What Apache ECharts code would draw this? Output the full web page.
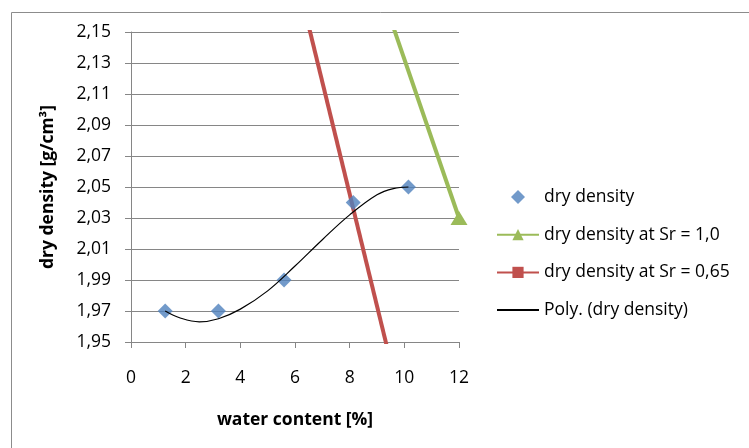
<!DOCTYPE html>
<html>
<head>
<meta charset="utf-8">
<script src="https://cdn.jsdelivr.net/npm/echarts@6/dist/echarts.min.js"></script>
<style>html,body{margin:0;padding:0;background:#fff}#c{width:749px;height:448px}</style>
</head>
<body>
<div id="c"></div>
<script>
// measured points: water content [%], dry density [g/cm3]
const dryDensity = [[1.25, 1.970], [3.2, 1.970], [5.6, 1.990], [8.13, 2.040], [10.15, 2.050]];
// saturation lines (only visible parts inside the plot range)
const srOne = [[8.0, 2.235], [12.0, 2.030]];
const srSixtyFive = [[6.0, 2.190], [10.0, 1.901]];
// trendline
const polyTrend = [[1.25, 1.970], [1.8, 1.9655], [2.5, 1.9630], [3.2, 1.9650], [4.0, 1.9712], [5.0, 1.9830],
  [6.0, 1.9990], [7.0, 2.0160], [8.0, 2.0320], [9.0, 2.0450], [9.6, 2.0490], [10.15, 2.0500]];
const xTicks = {min: 0, max: 12, step: 2};
const yTicks = {min: 1.95, max: 2.15, step: 0.02};
const names = ['dry density', 'dry density at Sr = 1,0', 'dry density at Sr = 0,65', 'Poly. (dry density)'];

const font = '"Open Sans", sans-serif';
const fs = 17.5;
const chart = echarts.init(document.getElementById('c'), null, {renderer: 'canvas'});
chart.setOption({
  backgroundColor: '#fff',
  animation: false,
  textStyle: {fontFamily: font},
  graphic: [{type: 'rect', left: 9, top: 10, shape: {width: 800, height: 500},
    style: {fill: 'none', stroke: '#8c8c8c', lineWidth: 1}, silent: true}],
  grid: {left: 131, top: 32, width: 328, height: 310},
  legend: {
    orient: 'vertical', left: 496, top: 188, padding: 0, itemWidth: 42, itemHeight: 14, itemGap: 19.7,
    symbolKeepAspect: true,
    textStyle: {fontSize: fs, lineHeight: 18, color: '#000', fontFamily: font},
    data: [
      {name: names[0], icon: 'path://M0,-1L1,0L0,1L-1,0Z'},
      {name: names[1]},
      {name: names[2]},
      {name: names[3], itemStyle: {color: 'rgba(0,0,0,0)', borderWidth: 0}}
    ]
  },
  xAxis: {
    type: 'value', min: xTicks.min, max: xTicks.max, interval: xTicks.step,
    name: 'water content [%]', nameLocation: 'middle', nameGap: 69,
    nameTextStyle: {fontSize: fs, fontWeight: 'bold', color: '#000', fontFamily: font},
    axisLine: {show: true, onZero: false, lineStyle: {color: '#868686', width: 1}},
    axisTick: {show: true, length: 6, lineStyle: {color: '#868686'}},
    axisLabel: {fontSize: fs, color: '#000', margin: 27},
    splitLine: {show: false}
  },
  yAxis: {
    type: 'value', min: yTicks.min, max: yTicks.max, interval: yTicks.step,
    name: 'dry density [g/cm³]', nameLocation: 'middle', nameGap: 74, nameRotate: 90,
    nameTextStyle: {fontSize: fs, fontWeight: 'bold', color: '#000', fontFamily: font},
    axisLine: {show: true, onZero: false, lineStyle: {color: '#868686', width: 1}},
    axisTick: {show: true, length: 6, lineStyle: {color: '#868686'}},
    axisLabel: {fontSize: fs, color: '#000', margin: 20,
      formatter: v => v.toFixed(2).replace('.', ',')},
    splitLine: {show: true, lineStyle: {color: '#868686', width: 1}}
  },
  series: [
    {name: names[0], type: 'scatter', data: dryDensity, symbol: 'diamond', symbolSize: 15,
      itemStyle: {color: '#4F81BD'}, z: 5},
    {name: names[1], type: 'line', data: srOne, symbol: 'triangle', symbolSize: [17, 14],
      showAllSymbol: true, lineStyle: {color: '#9BBB59', width: 4}, itemStyle: {color: '#9BBB59'}, z: 3},
    {name: names[2], type: 'line', data: srSixtyFive, symbol: 'rect', symbolSize: 11,
      lineStyle: {color: '#C0504D', width: 4}, itemStyle: {color: '#C0504D'}, z: 3},
    {name: names[3], type: 'line', data: polyTrend, symbol: 'none', smooth: 0.4,
      lineStyle: {color: '#000', width: 1.2}, itemStyle: {color: '#000'}, z: 6}
  ]
});
</script>
</body>
</html>
